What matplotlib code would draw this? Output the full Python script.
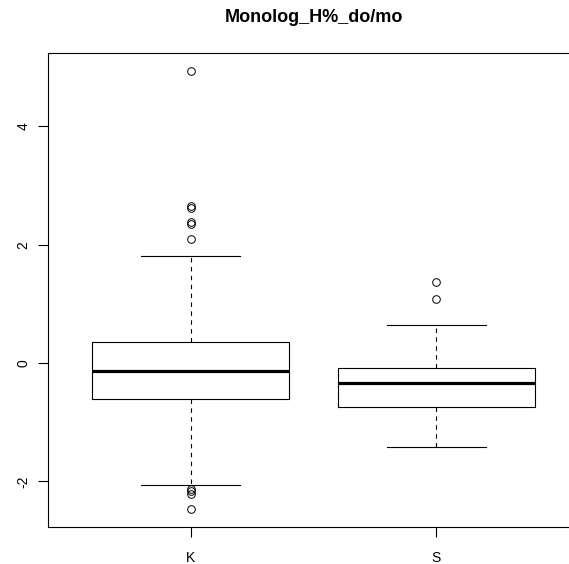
# boxplot of Monolog_H%_do/mo for groups K and S, drawn in the old R style
import matplotlib.pyplot as plt

plt.rcParams['font.family'] = ['Liberation Sans', 'DejaVu Sans']

groups = ['K', 'S']

# box statistics
q1 = [-0.61, -0.74]
med = [-0.13, -0.335]
q3 = [0.36, -0.09]
whislo = [-2.06, -1.41]
whishi = [1.81, 0.65]
fliers = [
    [4.94, 2.65, 2.62, 2.38, 2.35, 2.10, -2.13, -2.17, -2.22, -2.47],
    [1.37, 1.09],
]

stats = []
for i in range(len(groups)):
    stats.append({'label': groups[i], 'q1': q1[i], 'med': med[i], 'q3': q3[i],
                  'whislo': whislo[i], 'whishi': whishi[i], 'fliers': fliers[i]})

fig = plt.figure(figsize=(5.69, 5.64), dpi=100)
# the axes run a bit past the right edge of the picture, as in the reference
ax = fig.add_axes([48 / 569, 37 / 564, 531 / 569, 474 / 564])

ax.bxp(stats, positions=[1, 2], widths=0.8,
       boxprops=dict(color='black', linewidth=0.8),
       medianprops=dict(color='black', linewidth=2.3, solid_capstyle='butt'),
       whiskerprops=dict(color='black', linewidth=0.8, linestyle=(0, (4, 4))),
       capprops=dict(color='black', linewidth=0.8),
       flierprops=dict(marker='o', markerfacecolor='none', markeredgecolor='black',
                       markersize=5.5, markeredgewidth=0.7),
       capwidths=0.4)

ax.set_xlim(0.42, 2.58)
ax.set_ylim(-2.77, 5.24)
ax.set_yticks([-2, 0, 2, 4])
ax.set_yticklabels(['-2', '0', '2', '4'], rotation=90, va='center')
ax.set_xticks([1, 2])
ax.set_xticklabels(groups)
ax.tick_params(axis='both', direction='out', length=7, width=0.8, labelsize=10)
ax.tick_params(axis='x', pad=10)
ax.tick_params(axis='y', pad=5.5)
for s in ax.spines.values():
    s.set_linewidth(0.8)

ax.set_title('Monolog_H%_do/mo', fontsize=13, fontweight='bold', pad=22)

plt.savefig('out.png', dpi=100)
